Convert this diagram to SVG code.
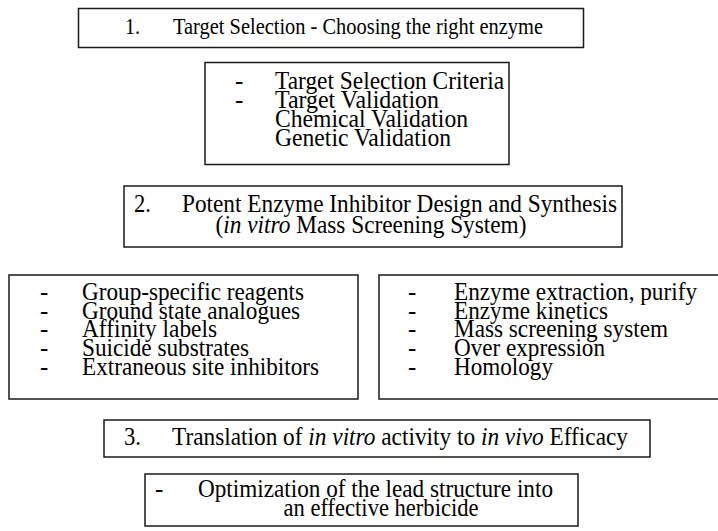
<svg xmlns="http://www.w3.org/2000/svg" width="718" height="531" viewBox="0 0 718 531">
<style>
.box{fill:#fff;stroke:#1a1a1a;stroke-width:1.5}
text{font-family:"Liberation Serif","Times New Roman",serif;font-size:25px;fill:#000}
.t1{font-size:23px}
.c{text-anchor:middle}
.i{font-style:italic}
</style>
<rect width="718" height="531" fill="#fff"/>
<g id="step1">
<rect class="box" x="78.5" y="8.5" width="505" height="39"/>
<text class="t1" x="125" y="34" textLength="15" lengthAdjust="spacingAndGlyphs">1.</text>
<text class="t1" x="173" y="34" textLength="370" lengthAdjust="spacingAndGlyphs">Target Selection - Choosing the right enzyme</text>
</g>
<g id="targetCriteria">
<rect class="box" x="205" y="62.5" width="304" height="102"/>
<text x="235" y="89">-</text><text x="275" y="89" textLength="229" lengthAdjust="spacingAndGlyphs">Target Selection Criteria</text>
<text x="235" y="108">-</text><text x="275" y="108" textLength="164" lengthAdjust="spacingAndGlyphs">Target Validation</text>
<text x="275" y="127" textLength="193" lengthAdjust="spacingAndGlyphs">Chemical Validation</text>
<text x="275" y="146" textLength="176" lengthAdjust="spacingAndGlyphs">Genetic Validation</text>
</g>
<g id="step2">
<rect class="box" x="124" y="186" width="498" height="61"/>
<text x="134" y="212" textLength="17" lengthAdjust="spacingAndGlyphs">2.</text>
<text x="182" y="212" textLength="435" lengthAdjust="spacingAndGlyphs">Potent Enzyme Inhibitor Design and Synthesis</text>
<text class="c" x="371" y="233" textLength="311" lengthAdjust="spacingAndGlyphs">(<tspan class="i">in vitro</tspan> Mass Screening System)</text>
</g>
<g id="inhibitorTypes">
<rect class="box" x="9" y="275" width="349" height="124"/>
<text x="40" y="300">-</text><text x="82" y="300" textLength="222" lengthAdjust="spacingAndGlyphs">Group-specific reagents</text>
<text x="40" y="318.7">-</text><text x="82" y="318.7" textLength="218" lengthAdjust="spacingAndGlyphs">Ground state analogues</text>
<text x="40" y="337.4">-</text><text x="82" y="337.4" textLength="135" lengthAdjust="spacingAndGlyphs">Affinity labels</text>
<text x="40" y="356">-</text><text x="82" y="356" textLength="167" lengthAdjust="spacingAndGlyphs">Suicide substrates</text>
<text x="40" y="374.8">-</text><text x="82" y="374.8" textLength="237" lengthAdjust="spacingAndGlyphs">Extraneous site inhibitors</text>
</g>
<g id="screeningMethods">
<rect class="box" x="379" y="275" width="345" height="124"/>
<text x="408" y="300">-</text><text x="454" y="300" textLength="243" lengthAdjust="spacingAndGlyphs">Enzyme extraction, purify</text>
<text x="408" y="318.7">-</text><text x="454" y="318.7" textLength="154" lengthAdjust="spacingAndGlyphs">Enzyme kinetics</text>
<text x="408" y="337.4">-</text><text x="454" y="337.4" textLength="214" lengthAdjust="spacingAndGlyphs">Mass screening system</text>
<text x="408" y="356">-</text><text x="454" y="356" textLength="151" lengthAdjust="spacingAndGlyphs">Over expression</text>
<text x="408" y="374.8">-</text><text x="454" y="374.8" textLength="99" lengthAdjust="spacingAndGlyphs">Homology</text>
</g>
<g id="step3">
<rect class="box" x="104" y="420" width="546" height="37"/>
<text x="124" y="445" textLength="17" lengthAdjust="spacingAndGlyphs">3.</text>
<text x="172" y="445" textLength="456" lengthAdjust="spacingAndGlyphs">Translation of <tspan class="i">in vitro</tspan> activity to <tspan class="i">in vivo</tspan> Efficacy</text>
</g>
<g id="optimization">
<rect class="box" x="145" y="474" width="433" height="52"/>
<text x="155" y="497">-</text>
<text x="198" y="497" textLength="355" lengthAdjust="spacingAndGlyphs">Optimization of the lead structure into</text>
<text class="c" x="381" y="516" textLength="195" lengthAdjust="spacingAndGlyphs">an effective herbicide</text>
</g>
<g id="connectors"/>
</svg>
